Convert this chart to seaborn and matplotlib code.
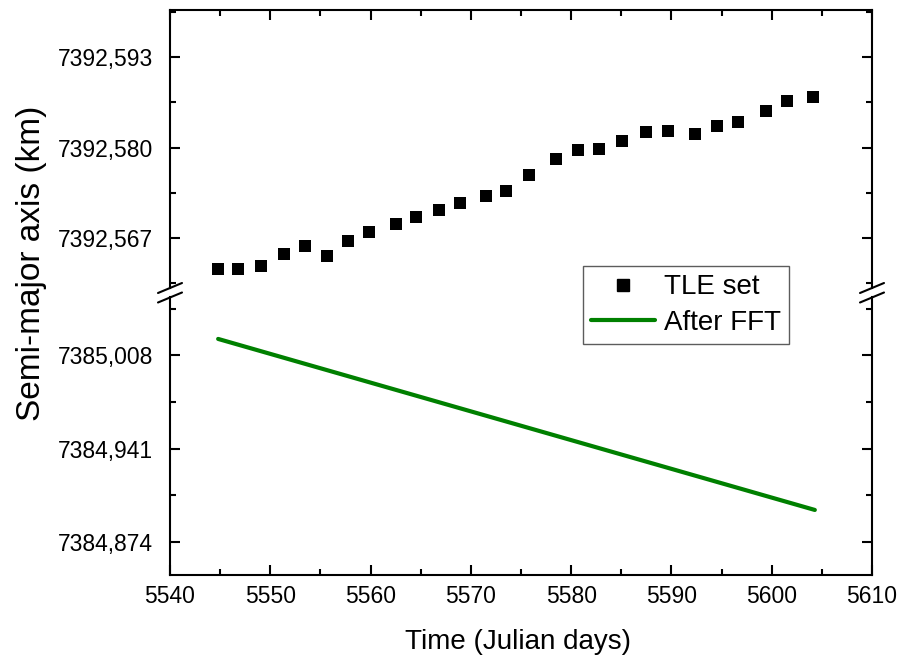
import numpy as np
import pandas as pd
import seaborn as sns
import matplotlib
matplotlib.use("Agg")
import matplotlib.pyplot as plt
from matplotlib.lines import Line2D
from matplotlib.ticker import FixedLocator, MultipleLocator

# ---- data ----
tle_time = [5544.8, 5546.8, 5549.1, 5551.4, 5553.5, 5555.7, 5557.7, 5559.8,
            5562.5, 5564.5, 5566.8, 5568.9, 5571.5, 5573.5, 5575.8, 5578.5,
            5580.7, 5582.8, 5585.1, 5587.5, 5589.7, 5592.4, 5594.5, 5596.6,
            5599.4, 5601.5, 5604.1]
tle_sma = [7392.5625, 7392.5625, 7392.5629, 7392.5647, 7392.5659, 7392.5644,
           7392.5666, 7392.5679, 7392.5690, 7392.5700, 7392.5710, 7392.5721,
           7392.5730, 7392.5738, 7392.5760, 7392.5783, 7392.5796, 7392.5798,
           7392.5810, 7392.5822, 7392.5824, 7392.5819, 7392.5831, 7392.5837,
           7392.5853, 7392.5867, 7392.5873]
fft_time = [5544.8, 5604.3]
fft_sma = [7385.0199, 7384.8971]

upper_ticks = [7392.593, 7392.580, 7392.567]
upper_minor = [7392.5995, 7392.5865, 7392.5735, 7392.5605]
lower_ticks = [7385.008, 7384.941, 7384.874]
lower_minor = [7385.0415, 7384.9745, 7384.9075]
x_ticks = [5540, 5550, 5560, 5570, 5580, 5590, 5600, 5610]

df_tle = pd.DataFrame({"time": tle_time, "sma": tle_sma})
df_fft = pd.DataFrame({"time": fft_time, "sma": fft_sma})

sns.set_style("white")
plt.rcParams["font.family"] = ["Liberation Sans", "DejaVu Sans"]
plt.rcParams["text.color"] = "black"
plt.rcParams["axes.labelcolor"] = "black"
plt.rcParams["xtick.color"] = "black"
plt.rcParams["ytick.color"] = "black"

W, H = 898, 659
fig = plt.figure(figsize=(W / 100, H / 100), dpi=100)

def fx(px):
    return px / W

def fy(py):
    return 1 - py / H

left, right = 170, 872
ax_top = fig.add_axes([fx(left), fy(288), fx(right) - fx(left), fy(10) - fy(288)])
ax_bot = fig.add_axes([fx(left), fy(575), fx(right) - fx(left), fy(297) - fy(575)])

sns.scatterplot(data=df_tle, x="time", y="sma", ax=ax_top, marker="s", s=80,
                color="black", linewidth=0, label="TLE set", legend=False, zorder=3)
sns.lineplot(data=df_fft, x="time", y="sma", ax=ax_bot, color="#008000",
             linewidth=3.0, label="After FFT", legend=False)

fmt = lambda v: f"{v:.3f}".replace(".", ",")

for ax in (ax_top, ax_bot):
    ax.set_xlim(5540, 5610)
    ax.xaxis.set_major_locator(FixedLocator(x_ticks))
    ax.xaxis.set_minor_locator(MultipleLocator(5))
    ax.set_xlabel("")
    ax.set_ylabel("")
    for sp in ax.spines.values():
        sp.set_linewidth(1.5)
        sp.set_color("black")
    ax.tick_params(which="both", direction="in", width=1.5, colors="black",
                   labelcolor="black", left=True, right=True, labelsize=16.5)
    ax.tick_params(which="major", length=7)
    ax.tick_params(which="minor", length=4)
    ax.tick_params(axis="y", pad=12)

ax_top.set_ylim(7392.5598, 7392.5998)
ax_top.yaxis.set_major_locator(FixedLocator(upper_ticks))
ax_top.yaxis.set_minor_locator(FixedLocator(upper_minor))
ax_top.set_yticklabels([fmt(v) for v in upper_ticks])
ax_top.spines["bottom"].set_visible(False)
ax_top.tick_params(which="both", top=True, bottom=False, labelbottom=False)

ax_bot.set_ylim(7384.8504, 7385.0500)
ax_bot.yaxis.set_major_locator(FixedLocator(lower_ticks))
ax_bot.yaxis.set_minor_locator(FixedLocator(lower_minor))
ax_bot.set_yticklabels([fmt(v) for v in lower_ticks])
ax_bot.spines["top"].set_visible(False)
ax_bot.tick_params(which="both", top=False, bottom=True)
ax_bot.tick_params(axis="x", pad=7)

# break marks
for xp in (left, right):
    for yp in (288, 297.5):
        fig.add_artist(Line2D([fx(xp - 12), fx(xp + 12)], [fy(yp + 5), fy(yp - 5)],
                              color="black", linewidth=1.5))

fig.text(fx(518), fy(649), "Time (Julian days)", ha="center", va="baseline", fontsize=20)
fig.text(fx(32), fy(263), "Semi-major axis (km)", ha="center", va="center",
         rotation=90, fontsize=24)

handles = [Line2D([], [], marker="s", linestyle="none", color="black", markersize=9),
           Line2D([], [], color="#008000", linewidth=3.0)]
leg = fig.legend(handles, ["TLE set", "After FFT"], loc="upper left",
                 bbox_to_anchor=(fx(583), fy(266)), fontsize=20, frameon=True,
                 fancybox=False, edgecolor="#333333", borderpad=0.3,
                 handlelength=2.3, handletextpad=0.3, labelspacing=0.35,
                 borderaxespad=0)
leg.get_frame().set_linewidth(1.0)

fig.savefig("out.png", dpi=100)
